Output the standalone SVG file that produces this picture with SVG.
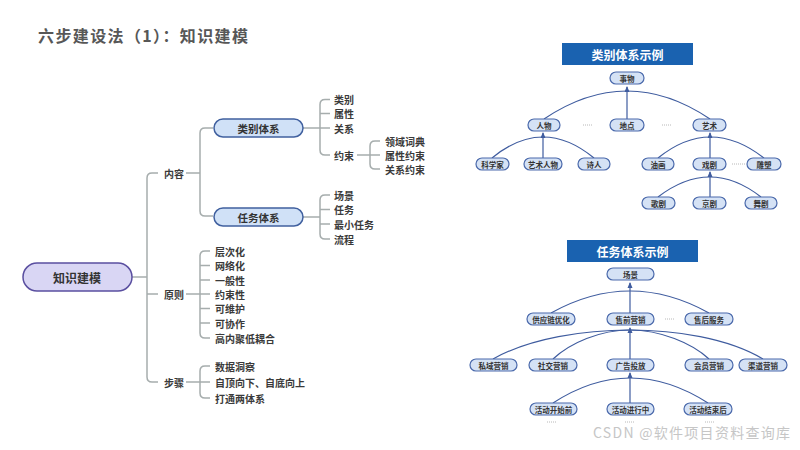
<svg xmlns="http://www.w3.org/2000/svg" width="800" height="450" viewBox="0 0 800 450">
<defs>
<style>
text{font-family:"Noto Sans CJK SC","Noto Sans",sans-serif;}
.title{font-size:16px;font-weight:bold;fill:#575757;}
.mm{fill:none;stroke:#a6adad;stroke-width:1.5;}
.lf{font-size:10px;font-weight:bold;fill:#3a3a3a;dominant-baseline:central;}
.root{fill:#d9d6f4;stroke:#5a4fa0;stroke-width:1.5;}
.pill{fill:#d0e1f7;stroke:#40609f;stroke-width:1.5;}
.rt{font-size:12px;font-weight:bold;fill:#333;text-anchor:middle;dominant-baseline:central;}
.pt{font-size:10.5px;font-weight:bold;fill:#333;text-anchor:middle;dominant-baseline:central;}
.hb{fill:#1a62b0;}
.ht{font-size:12px;font-weight:bold;fill:#fff;text-anchor:middle;dominant-baseline:central;}
.nd{fill:#d5e2f5;stroke:#4a69ab;stroke-width:1.2;}
.nt{font-size:7.5px;font-weight:bold;fill:#333;text-anchor:middle;dominant-baseline:central;}
.tr{fill:none;stroke:#3f5c9f;stroke-width:1.2;}
.dot{stroke:#b8b8b8;stroke-width:1;stroke-dasharray:1,1;}
.wm{font-size:14px;fill:#c6c6c6;}
</style>
<marker id="ah" viewBox="0 0 6 6" refX="5" refY="3" markerWidth="5" markerHeight="5" orient="auto">
<path d="M0,0.5 L6,3 L0,5.5 z" fill="#3f5c9f"/>
</marker>
</defs>
<rect width="800" height="450" fill="#ffffff"/>
<text class="title" x="38" y="42" textLength="210" lengthAdjust="spacing">六步建设法（1）：知识建模</text>

<g id="connectors">
<g id="mm-lines">
<path class="mm" d="M132,277 H147"/>
<path class="mm" d="M158,173 H152 Q147,173 147,178 V377 Q147,382 152,382 H158 M147,294 H158"/>
<path class="mm" d="M186,173 H200 M213,128 H205 Q200,128 200,133 V211 Q200,216 205,216 H213"/>
<path class="mm" d="M303,128 H330 M330,99.5 H325 Q320,99.5 320,104.5 V150 Q320,155 325,155 H330 M320,113.5 H330"/>
<path class="mm" d="M357,155 H380 M380,141 H375 Q370,141 370,146 V164 Q370,169 375,169 H380"/>
<path class="mm" d="M303,217 H320 M330,195 H325 Q320,195 320,200 V234 Q320,239 325,239 H330 M320,209.5 H330 M320,224 H330"/>
<path class="mm" d="M186,294 H210 M210,251 H205 Q200,251 200,256 V333 Q200,338 205,338 H210 M200,265.5 H210 M200,280 H210 M200,308.5 H210 M200,323 H210"/>
<path class="mm" d="M186,382 H210 M210,366 H205 Q200,366 200,371 V393 Q200,398 205,398 H210"/>
</g>
<g id="tree1-lines">
<path class="tr" d="M544,119 Q627,63 710,119"/>
<path class="tr" d="M627,119 V87" marker-end="url(#ah)"/>
<path class="tr" d="M492,158 Q543,116 594,158"/>
<path class="tr" d="M543,158 V133" marker-end="url(#ah)"/>
<path class="tr" d="M658,158 Q710,116 764,158"/>
<path class="tr" d="M710,158 V133" marker-end="url(#ah)"/>
<path class="tr" d="M658,197 Q710,157 761,197"/>
<path class="tr" d="M710,197 V172" marker-end="url(#ah)"/>
</g>
<g id="tree2-lines">
<path class="tr" d="M551,313 Q630,269 709,313"/>
<path class="tr" d="M630,313 V283" marker-end="url(#ah)"/>
<path class="tr" d="M493,359 C530,338 585,330 630,330"/>
<path class="tr" d="M553,359 C570,343 600,330 630,330"/>
<path class="tr" d="M709,359 C692,343 660,330 630,330"/>
<path class="tr" d="M763,359 C728,338 675,330 630,330"/>
<path class="tr" d="M630,359 V328" marker-end="url(#ah)"/>
<path class="tr" d="M553,403 Q630,353 708,403"/>
<path class="tr" d="M630,403 V373" marker-end="url(#ah)"/>
</g>
</g>

<g id="root"><rect class="root" x="23" y="263" width="109" height="28" rx="14"/><text class="rt" x="77" y="277">知识建模</text></g>
<g id="n-neirong"><text class="lf" x="164" y="173">内容</text></g>
<g id="n-yuanze"><text class="lf" x="164" y="294">原则</text></g>
<g id="n-buzhou"><text class="lf" x="164" y="382">步骤</text></g>
<g id="n-leibie"><rect class="pill" x="214" y="119" width="89" height="18" rx="9"/><text class="pt" x="258.5" y="128">类别体系</text></g>
<g id="n-renwu"><rect class="pill" x="214" y="208" width="89" height="18" rx="9"/><text class="pt" x="258.5" y="217">任务体系</text></g>
<g id="leaves-leibie">
<text class="lf" x="334" y="99.5">类别</text>
<text class="lf" x="334" y="113.5">属性</text>
<text class="lf" x="334" y="128">关系</text>
<text class="lf" x="334" y="155">约束</text>
<text class="lf" x="385" y="141">领域词典</text>
<text class="lf" x="385" y="155">属性约束</text>
<text class="lf" x="385" y="169">关系约束</text>
</g>
<g id="leaves-renwu">
<text class="lf" x="334" y="195">场景</text>
<text class="lf" x="334" y="209.5">任务</text>
<text class="lf" x="334" y="224">最小任务</text>
<text class="lf" x="334" y="239">流程</text>
</g>
<g id="leaves-yuanze">
<text class="lf" x="215" y="251">层次化</text>
<text class="lf" x="215" y="265.5">网络化</text>
<text class="lf" x="215" y="280">一般性</text>
<text class="lf" x="215" y="294">约束性</text>
<text class="lf" x="215" y="308.5">可维护</text>
<text class="lf" x="215" y="323">可协作</text>
<text class="lf" x="215" y="338">高内聚低耦合</text>
</g>
<g id="leaves-buzhou">
<text class="lf" x="215" y="366">数据洞察</text>
<text class="lf" x="215" y="382">自顶向下、自底向上</text>
<text class="lf" x="215" y="398">打通两体系</text>
</g>

<g id="head1"><rect class="hb" x="562" y="43" width="131" height="22"/><text class="ht" x="627.5" y="54">类别体系示例</text></g>
<g id="tree1">
<g id="t1-shiwu"><rect class="nd" x="610" y="72" width="34" height="12" rx="6"/><text class="nt" x="627" y="78">事物</text></g>
<g id="t1-renwu"><rect class="nd" x="528" y="119" width="32" height="12" rx="6"/><text class="nt" x="544" y="125">人物</text></g>
<g id="t1-didian"><rect class="nd" x="610" y="119" width="34" height="12" rx="6"/><text class="nt" x="627" y="125">地点</text></g>
<g id="t1-yishu"><rect class="nd" x="693" y="119" width="33" height="12" rx="6"/><text class="nt" x="709.5" y="125">艺术</text></g>
<g id="t1-kexuejia"><rect class="nd" x="476" y="158" width="33" height="12" rx="6"/><text class="nt" x="492.5" y="164">科学家</text></g>
<g id="t1-yishurenwu"><rect class="nd" x="524" y="158" width="38" height="12" rx="6"/><text class="nt" x="543" y="164">艺术人物</text></g>
<g id="t1-shiren"><rect class="nd" x="578" y="158" width="32" height="12" rx="6"/><text class="nt" x="594" y="164">诗人</text></g>
<g id="t1-youhua"><rect class="nd" x="642" y="158" width="32" height="12" rx="6"/><text class="nt" x="658" y="164">油画</text></g>
<g id="t1-xiju"><rect class="nd" x="693" y="158" width="33" height="12" rx="6"/><text class="nt" x="709.5" y="164">戏剧</text></g>
<g id="t1-diaosu"><rect class="nd" x="747" y="158" width="34" height="12" rx="6"/><text class="nt" x="764" y="164">雕塑</text></g>
<g id="t1-geju"><rect class="nd" x="642" y="197" width="33" height="12" rx="6"/><text class="nt" x="658.5" y="203">歌剧</text></g>
<g id="t1-jingju"><rect class="nd" x="693" y="197" width="33" height="12" rx="6"/><text class="nt" x="709.5" y="203">京剧</text></g>
<g id="t1-wuju"><rect class="nd" x="745" y="197" width="32" height="12" rx="6"/><text class="nt" x="761" y="203">舞剧</text></g>
<line class="dot" x1="583" y1="125" x2="593" y2="125"/>
<line class="dot" x1="662" y1="125" x2="672" y2="125"/>
<line class="dot" x1="732" y1="164" x2="745" y2="164"/>
</g>

<g id="head2"><rect class="hb" x="567" y="240" width="131" height="22"/><text class="ht" x="632.5" y="251">任务体系示例</text></g>
<g id="tree2">
<g id="t2-changjing"><rect class="nd" x="607" y="268" width="47" height="12" rx="6"/><text class="nt" x="630.5" y="274">场景</text></g>
<g id="t2-gongying"><rect class="nd" x="527" y="313" width="48" height="12" rx="6"/><text class="nt" x="551" y="319">供应链优化</text></g>
<g id="t2-shouqian"><rect class="nd" x="607" y="313" width="47" height="12" rx="6"/><text class="nt" x="630.5" y="319">售前营销</text></g>
<g id="t2-shouhou"><rect class="nd" x="685" y="313" width="48" height="12" rx="6"/><text class="nt" x="709" y="319">售后服务</text></g>
<g id="t2-siyu"><rect class="nd" x="470" y="359" width="47" height="12" rx="6"/><text class="nt" x="493.5" y="365">私域营销</text></g>
<g id="t2-shejiao"><rect class="nd" x="529" y="359" width="48" height="12" rx="6"/><text class="nt" x="553" y="365">社交营销</text></g>
<g id="t2-guanggao"><rect class="nd" x="607" y="359" width="47" height="12" rx="6"/><text class="nt" x="630.5" y="365">广告投放</text></g>
<g id="t2-huiyuan"><rect class="nd" x="685" y="359" width="48" height="12" rx="6"/><text class="nt" x="709" y="365">会员营销</text></g>
<g id="t2-qudao"><rect class="nd" x="739" y="359" width="48" height="12" rx="6"/><text class="nt" x="763" y="365">渠道营销</text></g>
<g id="t2-kaishi"><rect class="nd" x="530" y="403" width="47" height="12" rx="6"/><text class="nt" x="553.5" y="409">活动开始前</text></g>
<g id="t2-jinxing"><rect class="nd" x="607" y="403" width="47" height="12" rx="6"/><text class="nt" x="630.5" y="409">活动进行中</text></g>
<g id="t2-jieshu"><rect class="nd" x="684" y="403" width="48" height="12" rx="6"/><text class="nt" x="708" y="409">活动结束后</text></g>
<line class="dot" x1="665" y1="319" x2="675" y2="319"/>
<line class="dot" x1="547" y1="422" x2="557" y2="422"/>
<line class="dot" x1="625" y1="422" x2="635" y2="422"/>
<line class="dot" x1="705" y1="422" x2="715" y2="422"/>
</g>

<text class="wm" x="593" y="438" textLength="197" lengthAdjust="spacing">CSDN @软件项目资料查询库</text>
</svg>
